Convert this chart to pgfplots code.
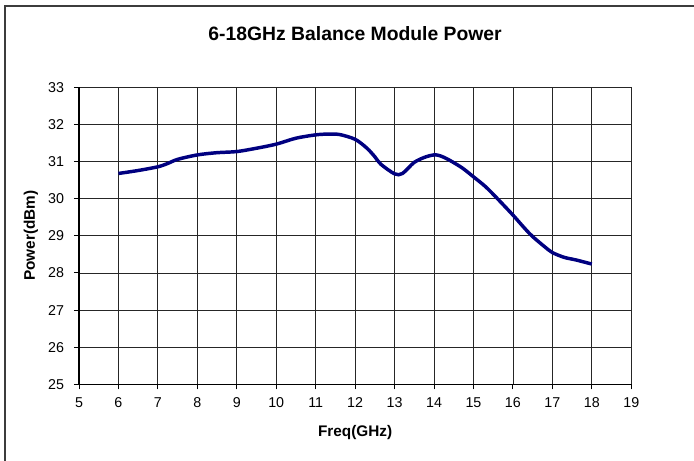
\documentclass[border=0pt]{standalone}
\usepackage{fontspec}
\setmainfont{Liberation Sans}
\usepackage{pgfplots}
\pgfplotsset{compat=1.18}
\definecolor{curve}{RGB}{0,0,128}
\definecolor{framegray}{RGB}{60,60,60}

\begin{document}
\begin{tikzpicture}
% picture box: 694 x 461 px, 1 px = 0.75 pt
\useasboundingbox (0,0) rectangle (520.5pt,345.75pt);
\draw[framegray, line width=1.4pt] (3.75pt,0) -- (3.75pt,341.25pt) -- (520.5pt,341.25pt);
\begin{axis}[
  at={(59.25pt,57.5pt)}, anchor=south west,
  scale only axis, width=414.2pt, height=222.75pt,
  xmin=5, xmax=19, ymin=25, ymax=33,
  xtick={5,...,19}, ytick={25,...,33},
  axis x line*=bottom, axis y line*=left,
  axis line style={black, line width=0.8pt, -},
  tick align=outside, major tick length=3.75pt,
  tick style={black, line width=0.7pt},
  grid=major, major grid style={black!85, line width=0.6pt},
  /pgf/number format/assume math mode=true,
  ticklabel style={font=\fontsize{10.7}{12}\selectfont},
  xticklabel style={anchor=base, yshift=-14pt},
  yticklabel style={anchor=east, xshift=-4pt},
  title={\bfseries 6-18GHz Balance Module Power},
  title style={font=\fontsize{14.5}{16}\selectfont, at={(0.5,1)}, anchor=center, yshift=34pt},
  xlabel={\bfseries Freq(GHz)},
  xlabel style={font=\fontsize{11.5}{13}\selectfont, at={(0.5,0)}, anchor=center, yshift=-36.5pt},
  ylabel={\bfseries Power(dBm)},
  ylabel style={font=\fontsize{11.5}{13}\selectfont, at={(0,0.5)}, anchor=center, yshift=36pt},
]
\addplot[curve, line width=2.6pt, smooth, tension=0.5] coordinates {
  (6,30.68) (6.5,30.76) (7,30.86) (7.25,30.95) (7.5,31.06) (8,31.18)
  (8.5,31.24) (9,31.27) (9.5,31.36) (10,31.47) (10.5,31.63) (11,31.72)
  (11.3,31.74) (11.6,31.73) (12,31.60) (12.3,31.36) (12.5,31.13) (12.65,30.93)
  (13,30.67) (13.2,30.68) (13.5,30.98) (13.8,31.13) (14.05,31.18) (14.3,31.09)
  (14.7,30.84) (15,30.59) (15.3,30.33) (15.6,30.01) (16,29.56) (16.3,29.20)
  (16.5,28.98) (16.8,28.71) (17,28.55) (17.3,28.42) (17.6,28.35) (18,28.24)
};
\end{axis}
\end{tikzpicture}
\end{document}
